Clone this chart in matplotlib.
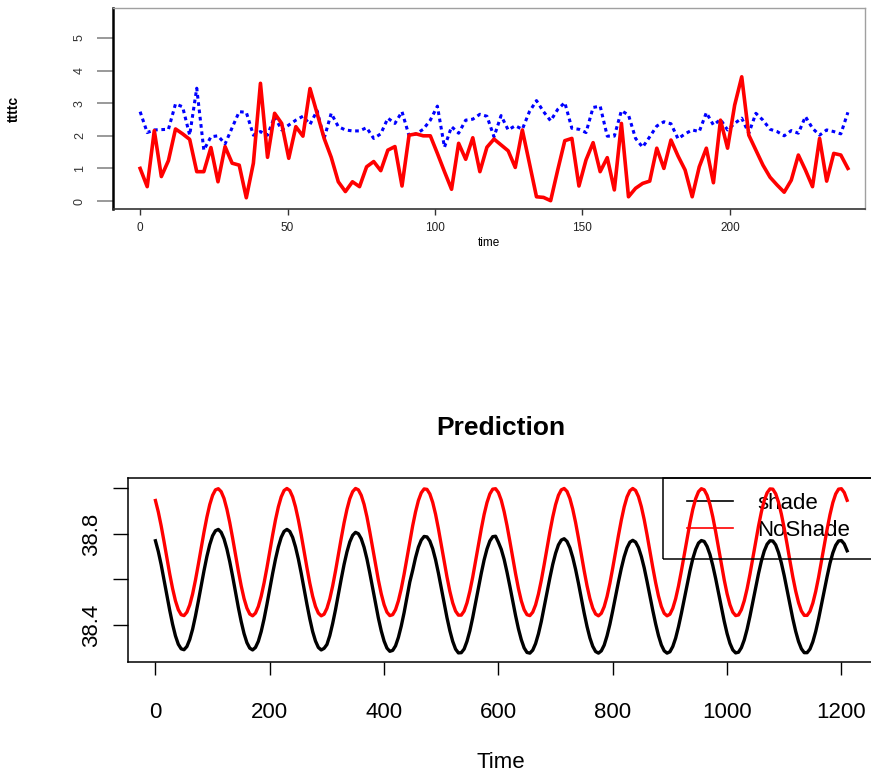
import numpy as np
import matplotlib
matplotlib.use("Agg")
import matplotlib.pyplot as plt
from matplotlib.patches import Rectangle

plt.rcParams['font.family'] = ['Liberation Sans', 'DejaVu Sans']

# top panel: two series sampled every 2.4 time units
obs_red = [1.00, 0.44, 2.16, 0.75, 1.24, 2.21, 2.06, 1.89, 0.90, 0.90,
           1.64, 0.59, 1.67, 1.16, 1.10, 0.10, 1.16, 3.61, 1.34, 2.69,
           2.38, 1.31, 2.28, 1.99, 3.45, 2.69, 1.92, 1.34, 0.59, 0.29,
           0.59, 0.44, 1.05, 1.21, 0.93, 1.56, 1.67, 0.46, 2.02, 2.06,
           2.00, 2.00, 1.46, 0.90, 0.36, 1.77, 1.28, 1.94, 0.90, 1.65,
           1.90, 1.72, 1.54, 1.03, 2.18, 1.16, 0.13, 0.11, 0.01, 0.95,
           1.85, 1.92, 0.46, 1.26, 1.79, 0.90, 1.33, 0.34, 2.38, 0.13,
           0.39, 0.54, 0.61, 1.62, 1.00, 1.87, 1.38, 0.95, 0.13, 1.05,
           1.62, 0.56, 2.48, 1.62, 2.94, 3.81, 2.02, 1.56, 1.10, 0.73,
           0.49, 0.27, 0.64, 1.41, 0.95, 0.44, 1.92, 0.61, 1.46, 1.41,
           1.00]
obs_blue = [2.74, 2.10, 2.18, 2.19, 2.20, 2.98, 2.89, 2.02, 3.46, 1.56,
            1.97, 2.00, 1.75, 2.25, 2.74, 2.72, 2.02, 2.13, 2.02, 2.59,
            2.18, 2.33, 2.48, 2.60, 2.35, 2.77, 1.92, 2.69, 2.28, 2.18,
            2.15, 2.15, 2.25, 1.92, 2.06, 2.54, 2.38, 2.74, 2.00, 2.06,
            2.20, 2.48, 2.91, 1.65, 2.28, 2.08, 2.48, 2.51, 2.66, 2.60,
            1.97, 2.62, 2.18, 2.31, 2.20, 2.74, 3.08, 2.74, 2.46, 2.81,
            3.02, 2.23, 2.20, 2.10, 2.87, 2.91, 1.99, 1.99, 2.77, 2.64,
            1.92, 1.65, 1.97, 2.30, 2.43, 2.37, 1.91, 2.06, 2.18, 2.13,
            2.71, 2.33, 2.50, 2.18, 2.38, 2.54, 2.08, 2.69, 2.48, 2.20,
            2.13, 2.00, 2.16, 2.08, 2.59, 2.23, 2.02, 2.18, 2.13, 2.06,
            2.72]
time_top = np.arange(len(obs_red)) * 2.4

# bottom panel: predictions read at t = 0, 10, 20, ... 1210
noshade_tens = [38.947, 38.836, 38.695, 38.560, 38.467, 38.441, 38.488, 38.597, 38.738, 38.874,
                38.970, 38.999, 38.956, 38.850, 38.709, 38.572, 38.474, 38.440, 38.481, 38.584,
                38.723, 38.862, 38.963, 39.000, 38.963, 38.862, 38.724, 38.584, 38.481, 38.440,
                38.473, 38.571, 38.709, 38.849, 38.955, 39.000, 38.970, 38.875, 38.738, 38.597,
                38.489, 38.441, 38.467, 38.559, 38.694, 38.836, 38.947, 38.998, 38.976, 38.887,
                38.753, 38.611, 38.497, 38.443, 38.461, 38.548, 38.680, 38.822, 38.938, 38.997,
                38.982, 38.898, 38.768, 38.625, 38.506, 38.445, 38.456, 38.536, 38.665, 38.809,
                38.929, 38.994, 38.987, 38.909, 38.782, 38.638, 38.516, 38.448, 38.451, 38.525,
                38.651, 38.794, 38.919, 38.990, 38.991, 38.920, 38.796, 38.653, 38.527, 38.451,
                38.447, 38.515, 38.637, 38.780, 38.908, 38.986, 38.994, 38.930, 38.810, 38.667,
                38.537, 38.456, 38.444, 38.506, 38.623, 38.766, 38.897, 38.981, 38.997, 38.939,
                38.824, 38.681, 38.549, 38.461, 38.442, 38.496, 38.609, 38.751, 38.885, 38.976,
                38.999, 38.948]
# and at t = 5, 15, 25, ... 1205
noshade_fives = [38.897, 38.767, 38.624, 38.506, 38.445, 38.456, 38.536, 38.666, 38.809, 38.929,
                 38.994, 38.986, 38.909, 38.782, 38.638, 38.516, 38.448, 38.452, 38.526, 38.651,
                 38.795, 38.919, 38.991, 38.991, 38.919, 38.796, 38.652, 38.526, 38.452, 38.447,
                 38.515, 38.637, 38.781, 38.908, 38.986, 38.994, 38.930, 38.809, 38.666, 38.537,
                 38.456, 38.445, 38.506, 38.623, 38.767, 38.897, 38.981, 38.996, 38.939, 38.823,
                 38.681, 38.548, 38.461, 38.443, 38.497, 38.610, 38.752, 38.886, 38.976, 38.999,
                 38.948, 38.837, 38.696, 38.560, 38.467, 38.441, 38.488, 38.596, 38.738, 38.874,
                 38.970, 39.000, 38.956, 38.850, 38.710, 38.572, 38.474, 38.440, 38.480, 38.583,
                 38.723, 38.861, 38.963, 39.000, 38.964, 38.863, 38.725, 38.586, 38.481, 38.440,
                 38.473, 38.571, 38.708, 38.848, 38.955, 38.999, 38.970, 38.875, 38.739, 38.598,
                 38.489, 38.441, 38.467, 38.559, 38.694, 38.835, 38.947, 38.998, 38.977, 38.887,
                 38.754, 38.611, 38.498, 38.442, 38.460, 38.547, 38.679, 38.821, 38.938, 38.997,
                 38.982]
shade_tens = [38.770, 38.665, 38.531, 38.403, 38.315, 38.291, 38.336, 38.439, 38.572, 38.701,
              38.792, 38.820, 38.778, 38.678, 38.545, 38.415, 38.322, 38.290, 38.328, 38.426,
              38.558, 38.689, 38.785, 38.820, 38.785, 38.690, 38.559, 38.427, 38.329, 38.290,
              38.314, 38.406, 38.535, 38.666, 38.765, 38.807, 38.779, 38.690, 38.562, 38.430,
              38.329, 38.284, 38.308, 38.395, 38.521, 38.640, 38.742, 38.789, 38.769, 38.687,
              38.563, 38.432, 38.328, 38.277, 38.294, 38.374, 38.496, 38.627, 38.734, 38.788,
              38.763, 38.688, 38.570, 38.441, 38.335, 38.279, 38.289, 38.361, 38.478, 38.607,
              38.715, 38.773, 38.767, 38.697, 38.583, 38.452, 38.343, 38.283, 38.286, 38.352,
              38.463, 38.590, 38.700, 38.764, 38.764, 38.701, 38.591, 38.464, 38.353, 38.286,
              38.282, 38.342, 38.450, 38.578, 38.691, 38.760, 38.767, 38.710, 38.604, 38.477,
              38.362, 38.290, 38.280, 38.334, 38.438, 38.565, 38.681, 38.755, 38.769, 38.718,
              38.616, 38.490, 38.372, 38.295, 38.278, 38.326, 38.426, 38.552, 38.671, 38.750,
              38.771, 38.726]
shade_fives = [38.723, 38.599, 38.464, 38.352, 38.295, 38.305, 38.381, 38.504, 38.639, 38.753,
               38.814, 38.807, 38.734, 38.614, 38.477, 38.362, 38.298, 38.301, 38.371, 38.490,
               38.626, 38.743, 38.811, 38.811, 38.743, 38.627, 38.491, 38.371, 38.301, 38.297,
               38.353, 38.467, 38.602, 38.721, 38.794, 38.801, 38.741, 38.628, 38.494, 38.374,
               38.298, 38.288, 38.345, 38.454, 38.589, 38.696, 38.773, 38.787, 38.735, 38.628,
               38.497, 38.375, 38.294, 38.278, 38.328, 38.432, 38.562, 38.686, 38.769, 38.790,
               38.732, 38.632, 38.505, 38.383, 38.299, 38.276, 38.318, 38.415, 38.543, 38.666,
               38.752, 38.779, 38.739, 38.644, 38.518, 38.393, 38.306, 38.276, 38.311, 38.403,
               38.527, 38.649, 38.739, 38.772, 38.740, 38.651, 38.528, 38.405, 38.312, 38.276,
               38.305, 38.392, 38.513, 38.637, 38.732, 38.771, 38.745, 38.661, 38.541, 38.416,
               38.319, 38.277, 38.300, 38.381, 38.501, 38.626, 38.725, 38.770, 38.752, 38.672,
               38.554, 38.427, 38.327, 38.278, 38.294, 38.371, 38.488, 38.613, 38.717, 38.769,
               38.756]

top_xticks = [0, 50, 100, 150, 200]
top_yticks = [0, 1, 2, 3, 4, 5]
bot_xticks = [0, 200, 400, 600, 800, 1000, 1200]
bot_yticks = [38.4, 38.6, 38.8, 39.0]
bot_ylabels = ['38.4', '', '38.8', '']


def merge(tens, fives):
    # put the two readings back in time order
    t = np.concatenate([np.arange(len(tens)) * 10, np.arange(len(fives)) * 10 + 5])
    v = np.concatenate([tens, fives])
    order = np.argsort(t)
    return t[order], v[order]


time_bot, noshade = merge(noshade_tens, noshade_fives)
_, shade = merge(shade_tens, shade_fives)

W, H = 871, 774
fig = plt.figure(figsize=(W / 100, H / 100), dpi=100)

# ---- top panel
ax1 = fig.add_axes([113 / W, 1 - 209 / H, 752 / W, 201 / H])
ax1.plot(time_top, obs_blue, color='#0000ff', lw=2.2, ls=(0, (1.2, 1.2)),
         solid_capstyle='butt')
ax1.plot(time_top, obs_red, color='#ff0000', lw=2.6)
ax1.set_xlim(-9.2, 245.8)
ax1.set_ylim(-0.245, 5.92)
for s in ('top', 'right'):
    ax1.spines[s].set_color('#a0a0a0')
    ax1.spines[s].set_linewidth(1.0)
ax1.spines['left'].set_linewidth(1.8)
ax1.spines['bottom'].set_color('#333333')
ax1.spines['bottom'].set_linewidth(1.2)
ax1.set_xticks(top_xticks)
ax1.set_xticklabels([str(v) for v in top_xticks], fontsize=8.5, color='#222222')
ax1.set_yticks(top_yticks)
ax1.set_yticklabels([str(v) for v in top_yticks], fontsize=9, color='#333333',
                    rotation=90, va='center')
ax1.tick_params(axis='x', length=4.5, width=1.0, pad=5, color='#333333')
ax1.tick_params(axis='y', length=11.5, width=1.4, pad=8, color='#999999')
ax1.set_xlabel('time', fontsize=8.5, labelpad=2)
ax1.set_ylabel('ttttc', fontsize=10, fontweight='bold', labelpad=38)

# ---- bottom panel
ax2 = fig.add_axes([128 / W, 1 - 662 / H, 746 / W, 184 / H])
ax2.plot(time_bot, shade, color='black', lw=2.4, label='shade')
ax2.plot(time_bot, noshade, color='#ff0000', lw=2.4, label='NoShade')
ax2.set_xlim(-48, 1257)
ax2.set_ylim(38.237, 39.046)
for s in ax2.spines.values():
    s.set_linewidth(1.1)
ax2.set_xticks(bot_xticks)
ax2.set_xticklabels([str(v) for v in bot_xticks], fontsize=16)
ax2.set_yticks(bot_yticks)
ax2.set_yticklabels(bot_ylabels, fontsize=16, rotation=90, va='center')
ax2.tick_params(axis='x', length=9.4, width=1.0, pad=19.5)
ax2.tick_params(axis='y', length=10.8, width=1.0, pad=8)
ax2.set_xlabel('Time', fontsize=16, labelpad=21)
ax2.set_title('Prediction', fontsize=19, fontweight='bold', pad=31)

# legend frame drawn by hand so it runs off the right edge like the original
fig.add_artist(Rectangle((663 / W, 1 - 559 / H), 240 / W, 81 / H,
                         transform=fig.transFigure, fill=False,
                         edgecolor='black', lw=1.1, zorder=1))
leg = ax2.legend(loc='upper left', bbox_to_anchor=(687 / W, 1 - 493 / H),
                 bbox_transform=fig.transFigure, fontsize=16, frameon=False,
                 borderpad=0, handlelength=2.07, handletextpad=1.1,
                 labelspacing=0.27, borderaxespad=0)
for line in leg.get_lines():
    line.set_linewidth(1.2)
leg.set_zorder(1)

fig.savefig('out.png', dpi=100)
